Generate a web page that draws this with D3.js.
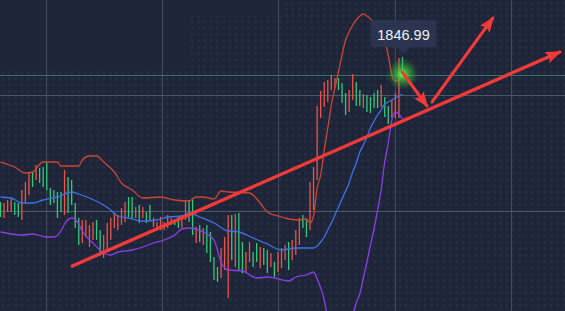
<!DOCTYPE html>
<html><head><meta charset="utf-8">
<script src="https://cdn.jsdelivr.net/npm/d3@7/dist/d3.min.js"></script>
<style>html,body{margin:0;padding:0;background:#1e2538;overflow:hidden}svg{display:block}</style>
</head><body>
<svg id="c" width="565" height="311"></svg>
<script>
// ---- data ----
const candleOpen = [1832.8,1834.2,1834.5,1834.7,1833.0,1832.8,1835.5,1836.3,1837.2,1835.8,1838.0,1836.2,1835.8,1835.5,1834.0,1834.2,1832.7,1833.3,1837.5,1833.2,
1834.0,1831.7,1830.0,1832.5,1832.5,1832.0,1832.3,1830.5,1829.3,1831.0,1832.2,1832.7,1833.2,1833.0,1833.7,1834.3,1832.8,1832.7,1833.8,1832.2,
1833.8,1832.2,1832.5,1832.7,1832.3,1832.8,1832.3,1833.0,1832.7,1832.0,1831.7,1833.0,1834.5,1832.3,1831.0,1831.8,1830.3,1831.7,1829.2,1828.3,
1826.5,1826.3,1829.7,1830.8,1833.0,1828.5,1833.1,1827.5,1827.2,1829.3,1830.3,1827.8,1828.3,1829.8,1828.0,1827.2,1829.2,1826.8,1829.3,1829.7,
1830.0,1827.5,1830.5,1831.5,1832.7,1831.7,1830.8,1836.3,1837.8,1843.9,1845.4,1846.3,1846.5,1847.0,1846.7,1845.5,1844.2,1843.0,1845.5,1847.1,
1843.9,1843.9,1845.1,1843.3,1843.2,1843.7,1843.7,1846.0,1842.8,1842.1,1844.5,1845.2,1848.7,1847.0];
const candleClose = [1834.3,1832.7,1833.3,1833.3,1834.3,1834.2,1832.5,1834.2,1835.0,1837.3,1836.5,1837.7,1837.8,1838.3,1835.7,1835.5,1835.3,1835.3,1833.0,1836.8,
1836.5,1834.2,1832.7,1830.2,1830.8,1829.8,1830.5,1832.5,1831.5,1828.7,1829.3,1830.5,1831.7,1831.5,1832.0,1832.3,1834.8,1834.8,1832.7,1834.0,
1832.7,1833.3,1834.0,1831.8,1831.7,1831.5,1831.5,1831.7,1832.0,1832.5,1832.8,1831.7,1832.5,1834.5,1834.7,1830.2,1832.0,1830.0,1832.0,1831.3,
1828.8,1827.8,1826.7,1827.5,1824.7,1833.0,1827.8,1833.2,1830.3,1827.3,1828.3,1829.3,1830.2,1827.7,1829.7,1829.5,1827.8,1828.3,1827.3,1827.7,
1828.5,1830.3,1828.5,1829.0,1830.0,1833.0,1832.5,1831.5,1833.5,1836.5,1842.7,1843.8,1844.3,1845.5,1845.7,1846.7,1846.2,1845.2,1843.3,1844.5,
1846.3,1845.5,1843.7,1845.0,1844.8,1845.2,1845.5,1843.8,1844.8,1843.9,1842.7,1842.7,1842.7,1848.8];

const upperIdx = [0,4,7,9,12,16,17,22,23,25,27,29,32,34,37,40,45,49,53,55,57,60,62,64,70,73,75,79,81,84,86,87,88,89,90,91,92,93,94,95,96,97,98,99,100,101,102,103,104,105,106,107,108,109,110,111,112,113];
const upperVal = [1838.3,1837.8,1837.2,1837.3,1838.3,1838.3,1837.9,1837.9,1838.5,1838.9,1838.9,1838.3,1837.3,1836.2,1835.5,1834.7,1834.8,1834.5,1834.4,1834.8,1834.8,1834.6,1835.4,1835.3,1835.2,1834.2,1833.3,1832.8,1832.6,1832.5,1832.6,1832.2,1832.9,1835.7,1837.0,1839.5,1841.7,1844.0,1845.7,1847.3,1849.0,1850.5,1851.3,1852.0,1852.5,1852.9,1853.1,1852.9,1852.6,1852.2,1851.7,1851.1,1850.3,1849.0,1847.0,1846.4,1846.5,1847.2];

const middleIdx = [0,3,6,9,12,16,20,22,25,28,31,33,36,40,44,47,51,53,56,60,64,67,71,75,79,83,86,88,89,90,91,92,93,94,95,96,97,98,99,100,101,102,103,104,105,106,107,108,109,110,111,112,113];
const middleVal = [1834.8,1834.7,1834.2,1834.2,1834.5,1834.8,1835.3,1835.1,1834.7,1834.2,1833.5,1832.9,1832.7,1832.4,1832.5,1832.8,1832.9,1833.2,1832.8,1832.2,1831.4,1831.3,1830.7,1830.1,1829.5,1829.7,1829.7,1829.7,1829.9,1830.3,1830.8,1831.5,1832.2,1833.0,1833.8,1834.6,1835.4,1836.2,1837.3,1838.2,1839.3,1840.0,1840.8,1841.7,1842.4,1843.0,1843.5,1844.1,1844.3,1844.5,1844.7,1844.9,1845.1];

const lowerIdx = [0,6,9,13,15,17,18,20,22,23,24,26,29,31,33,37,40,43,46,49,51,53,57,60,62,64,68,72,75,77,81,83,86,88,89,90,91,92,93,95,97,99,100,101,102,103,104,105,106,107,108,109,110,111,112,113];
const lowerVal = [1831.3,1831.0,1831.1,1830.8,1830.8,1831.4,1832.1,1832.7,1832.1,1831.4,1830.9,1830.2,1829.2,1829.0,1829.3,1829.5,1829.8,1830.2,1830.5,1831.0,1831.6,1831.7,1831.3,1830.5,1828.3,1827.5,1827.4,1826.7,1826.8,1826.7,1826.4,1826.8,1827.0,1827.3,1826.6,1825.7,1824.5,1822.5,1820.0,1819.0,1821.0,1823.0,1824.2,1825.1,1826.7,1828.3,1830.0,1831.6,1833.5,1835.5,1838.3,1840.2,1842.5,1843.3,1843.1,1842.6];

const lastPrice = 1846.99;
const gridIdx = [12.8, 45.4, 78.0, 110.9, 143.5];
const gridPrice = [1845.0, 1833.4];

// annotations: [idx0, price0, idx1, price1]
const trendLine = [20.2, 1827.9, 157.2, 1849.3];
const arrowDown = [112.9, 1847.3, 119.9, 1843.9];
const arrowUp = [121.3, 1844.3, 138.4, 1852.7];

// ---- scales ----
const W = 565, H = 311;
const x = d3.scaleLinear().domain([0, 113]).range([0.5, 402.5]);
const y = d3.scaleLinear().domain([1854.5, 1823.4]).range([0, 311]);

const svg = d3.select('#c');
const defs = svg.append('defs');

const pat = defs.append('pattern').attr('id','dots').attr('patternUnits','userSpaceOnUse')
  .attr('width',6.3).attr('height',6.3);
pat.append('circle').attr('cx',3.15).attr('cy',3.15).attr('r',1.6).attr('fill','#262e44');

const mask = defs.append('mask').attr('id','dm');
mask.append('rect').attr('width',W).attr('height',H).attr('fill','#fff');
mask.append('rect').attr('x',0).attr('y',0).attr('width',190).attr('height',68).attr('fill','#000');
mask.append('rect').attr('x',190).attr('y',0).attr('width',95).attr('height',16).attr('fill','#000');

const glow = defs.append('radialGradient').attr('id','glow');
glow.append('stop').attr('offset','0%').attr('stop-color','#8dff70').attr('stop-opacity',1);
glow.append('stop').attr('offset','25%').attr('stop-color','#45dd3c').attr('stop-opacity',0.8);
glow.append('stop').attr('offset','100%').attr('stop-color','#2a9a30').attr('stop-opacity',0);

function marker(id, color){
  defs.append('marker').attr('id',id).attr('markerUnits','userSpaceOnUse')
    .attr('viewBox','0 0 16 12').attr('refX',14).attr('refY',6)
    .attr('markerWidth',16).attr('markerHeight',12).attr('orient','auto')
    .append('path').attr('d','M0,0 L16,6 L0,12 L3,6 Z').attr('fill',color);
}
marker('ah','#f23a3a');

svg.append('rect').attr('width',W).attr('height',H).attr('fill','#1e2538');
svg.append('rect').attr('width',W).attr('height',H).attr('fill','url(#dots)').attr('mask','url(#dm)');

// grid via axes
const gx = svg.append('g').attr('transform',`translate(0,${H})`)
  .call(d3.axisBottom(x).tickValues(gridIdx).tickSize(H).tickFormat(''));
gx.select('.domain').remove();
gx.selectAll('line').attr('stroke','#434b5e').attr('stroke-width',1).attr('y2',-H);
const gy = svg.append('g')
  .call(d3.axisRight(y).tickValues(gridPrice).tickSize(W).tickFormat(''));
gy.select('.domain').remove();
gy.selectAll('line').attr('stroke','#4d5569').attr('stroke-width',1);

// current price line
svg.append('line').attr('x1',0).attr('x2',W)
  .attr('y1',Math.round(y(lastPrice))+0.5).attr('y2',Math.round(y(lastPrice))+0.5)
  .attr('stroke','#33776a').attr('stroke-width',1.2);

// candles
const candles = d3.range(candleOpen.length).map(i => ({i, o:candleOpen[i], c:candleClose[i]}));
svg.append('g').selectAll('rect').data(candles).join('rect')
  .attr('x', d => x(d.i) - 0.65)
  .attr('width', 1.3)
  .attr('y', d => y(Math.max(d.o, d.c)))
  .attr('height', d => Math.max(1, Math.abs(y(d.o) - y(d.c))))
  .attr('fill', d => d.c >= d.o ? '#31c97a' : '#ec5447');

// bands
function band(idx, vals, color){
  const line = d3.line().x(d => x(d[0])).y(d => y(d[1])).curve(d3.curveMonotoneX);
  svg.append('path').attr('d', line(idx.map((v,k)=>[v, vals[k]])))
    .attr('fill','none').attr('stroke',color).attr('stroke-width',1.3);
}
band(upperIdx, upperVal, '#cc4531');
band(middleIdx, middleVal, '#3d72e6');
band(lowerIdx, lowerVal, '#8b3ee8');

// glow
const gxp = x(candleOpen.length - 1), gyp = y(lastPrice);
svg.append('circle').attr('cx',gxp).attr('cy',gyp-1).attr('r',16).attr('fill','url(#glow)');

// arrows
function arrow(a, w){
  svg.append('line')
    .attr('x1', x(a[0])).attr('y1', y(a[1])).attr('x2', x(a[2])).attr('y2', y(a[3]))
    .attr('stroke','#f23a3a').attr('stroke-width',w).attr('stroke-linecap','round')
    .attr('marker-end','url(#ah)');
}
arrow(trendLine, 3.4);
arrow(arrowDown, 3);
arrow(arrowUp, 3);

// price label
const lx = x(candleOpen.length - 1) + 1;
const lab = svg.append('g');
lab.append('rect').attr('x',lx-33).attr('y',20).attr('width',66).attr('height',27).attr('rx',2)
  .attr('fill','#2b3551').attr('fill-opacity',0.95);
lab.append('path').attr('d',`M${lx-7},47 L${lx+7},47 L${lx},54 Z`).attr('fill','#2b3551');
lab.append('text').attr('x',lx).attr('y',39.5).attr('text-anchor','middle')
  .attr('font-family','"Liberation Sans", Arial, sans-serif').attr('font-size',14.5)
  .attr('fill','#eef1f7').text(lastPrice.toFixed(2));
</script>
</body></html>
